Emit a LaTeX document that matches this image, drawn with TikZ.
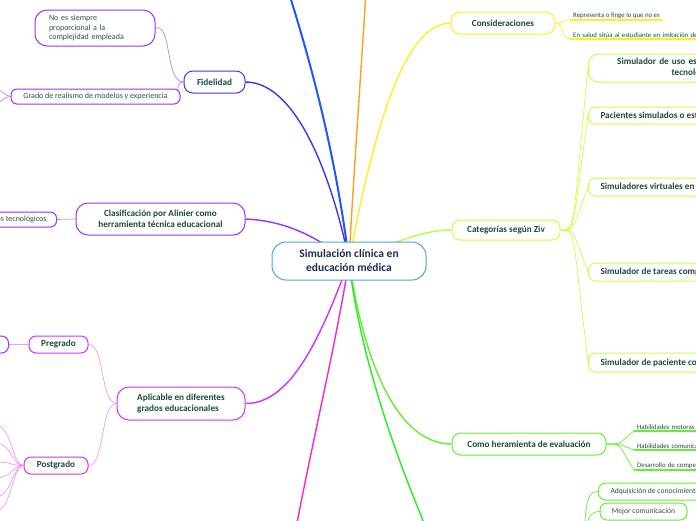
\documentclass[tikz,border=0pt]{standalone}
\usepackage{fontspec}
\setmainfont{Carlito}
\usetikzlibrary{backgrounds}

\definecolor{txtgreen}{HTML}{1B4A3A}
\definecolor{rootnavy}{HTML}{1F2D4D}
\definecolor{rootblue}{HTML}{4DA3E0}
\definecolor{fidblue}{HTML}{4433EE}
\definecolor{topblue}{HTML}{2255FF}
\definecolor{orangeb}{HTML}{FFA020}
\definecolor{yellowb}{HTML}{FFEE22}
\definecolor{limeb}{HTML}{CCFF44}
\definecolor{evalgreen}{HTML}{66EE33}
\definecolor{brightgreen}{HTML}{22EE22}
\definecolor{pinkb}{HTML}{FF22CC}
\definecolor{magentab}{HTML}{CC33FF}
\definecolor{violetb}{HTML}{9933FF}
\definecolor{lilac}{HTML}{AA88FF}
\definecolor{pinklight}{HTML}{EE99FF}

\tikzset{
  root/.style={draw=rootblue, line width=1pt, fill=white, rounded corners=14pt,
    minimum width=154pt, minimum height=38pt, align=center, text=rootnavy,
    font=\fontsize{11.5}{14}\selectfont\bfseries},
  topic/.style={draw, line width=1pt, fill=white, text=txtgreen, inner sep=2pt,
    font=\fontsize{9.2}{11}\selectfont\bfseries},
  leaf/.style={draw, line width=1pt, fill=white, text=txtgreen!85!gray, inner sep=2pt,
    font=\fontsize{8}{9.5}\selectfont},
  note/.style={text=txtgreen, inner xsep=3pt, inner ysep=1.5pt, anchor=south west,
    font=\fontsize{6.8}{8}\selectfont},
  branch/.style={line width=1.4pt},
  twig/.style={line width=0.7pt},
}

\begin{document}
\begin{tikzpicture}[x=1pt,y=-1pt]
\useasboundingbox (0,0) rectangle (696,520);
\clip (0,0) rectangle (696,520);

% centre
\node[root] (sim) at (349,261) {Simulación clínica en\\educación médica};

% left side
\node[topic, draw=fidblue, minimum width=61pt, minimum height=22pt, rounded corners=9pt] (fid) at (214.5,82) {Fidelidad};
\node[leaf, draw=violetb, minimum height=36pt, text width=92pt, inner xsep=14pt, align=left, rounded corners=12pt] (noes) at (95,28) {No es siempre\\proporcional a la\\complejidad empleada};
\node[leaf, draw=violetb, minimum width=169pt, minimum height=15pt, rounded corners=6pt] (grado) at (95.5,96.5) {Grado de realismo de modelos y experiencia};
\node[topic, draw=violetb, minimum width=169pt, minimum height=32pt, align=center, rounded corners=12pt] (alin) at (160.5,219) {Clasificación por Alinier como\\herramienta técnica educacional};
\node[leaf, draw=violetb, anchor=east, minimum height=15pt, inner xsep=10pt, rounded corners=6pt] (tec) at (57,219.5) {Recursos tecnológicos};
\node[topic, draw=magentab, minimum width=128pt, minimum height=33pt, align=left, rounded corners=12pt] (apl) at (181,403.5) {Aplicable en diferentes\\grados educacionales};
\node[topic, draw=magentab, minimum width=59pt, minimum height=17pt, rounded corners=7pt] (pre) at (58.5,344.5) {Pregrado};
\node[topic, draw=violetb, anchor=east, minimum width=50pt, minimum height=17pt, rounded corners=7pt] (preleft) at (9,344.5) {};
\node[topic, draw=magentab, minimum width=64pt, minimum height=17pt, rounded corners=7pt] (post) at (56,465.5) {Postgrado};

% right side
\node[topic, draw=yellowb, minimum width=104pt, minimum height=22pt, rounded corners=9pt] (consid) at (503,23) {Consideraciones};
\node[note] (rep) at (570,20) {Representa o finge lo que no es};
\node[note, text width=130pt, align=left] (salud) at (570,39) {En salud sitúa al estudiante en imitación de};

\node[topic, draw=limeb, minimum width=108pt, minimum height=20pt, rounded corners=8pt] (categ) at (506,230) {Categorías según Ziv};
\node[topic, draw=limeb, anchor=west, minimum height=28pt, text width=182pt, inner xsep=12pt, align=center, rounded corners=10pt] (z1) at (588,68) {Simulador de uso específico y de baja\\tecnología};
\node[topic, draw=limeb, anchor=west, minimum height=17pt, inner xsep=12pt, rounded corners=7pt] (z2) at (588,115.5) {Pacientes simulados o estandarizados};
\node[topic, draw=limeb, anchor=west, minimum height=18pt, inner xsep=12pt, rounded corners=7pt] (z3) at (588,187) {Simuladores virtuales en pantalla};
\node[topic, draw=limeb, anchor=west, minimum height=18pt, inner xsep=12pt, rounded corners=7pt] (z4) at (588,272) {Simulador de tareas complejas};
\node[topic, draw=limeb, anchor=west, minimum height=19pt, inner xsep=12pt, rounded corners=7pt] (z5) at (588,362.5) {Simulador de paciente completo};

\node[topic, draw=evalgreen, minimum width=154pt, minimum height=22pt, rounded corners=9pt] (evalu) at (529,444) {Como heramienta de evaluación};
\node[note, text width=90pt, align=left] (h1) at (634,431) {Habilidades motoras};
\node[note, text width=90pt, align=left] (h2) at (634,450) {Habilidades comunicativas};
\node[note, text width=90pt, align=left] (h3) at (634,470) {Desarrollo de competencias};

\node[leaf, draw=evalgreen, anchor=west, minimum height=17pt, inner xsep=12pt, rounded corners=7pt, font=\fontsize{7.6}{9}\selectfont] (adq) at (598,491.5) {Adquisición de conocimientos};
\node[leaf, draw=evalgreen, minimum width=87pt, minimum height=17pt, rounded corners=7pt, font=\fontsize{7.6}{9}\selectfont] (mejor) at (643.5,511.5) {Mejor comunicación};

% free ends
\coordinate (topb) at (288,-10);
\coordinate (topo) at (366,-10);
\coordinate (botg) at (440,560);
\coordinate (botp) at (290,560);
\coordinate (gl1) at (-8,88);
\coordinate (gl2) at (-8,104);
\coordinate (adqroot) at (584,535);

\begin{scope}[on background layer]
  % main branches
  \draw[branch, fidblue] (sim.center) .. controls (335,190) and (300,82) .. (fid.east);
  \draw[branch, topblue, line width=2pt] (sim.center) .. controls (335,150) and (310,60) .. (topb);
  \draw[branch, orangeb] (sim.center) .. controls (355,150) and (362,60) .. (topo);
  \draw[branch, yellowb] (sim.center) .. controls (370,150) and (400,23) .. (consid.west);
  \draw[branch, limeb!90!green] (sim.center) .. controls (390,245) and (420,230) .. (categ.west);
  \draw[branch, evalgreen] (sim.center) .. controls (365,370) and (400,444) .. (evalu.west);
  \draw[branch, brightgreen] (sim.center) .. controls (360,360) and (400,470) .. (botg);
  \draw[branch, pinkb] (sim.center) .. controls (335,350) and (310,450) .. (botp);
  \draw[branch, magentab] (sim.center) .. controls (320,340) and (290,404) .. (apl.east);
  \draw[branch, violetb] (sim.center) .. controls (320,240) and (290,221) .. (alin.east);

  % left twigs
  \draw[twig, lilac] (fid.west) .. controls (165,82) and (172,23) .. (noes.east);
  \draw[twig, lilac] (fid.west) .. controls (175,82) and (178,96) .. (grado.east);
  \draw[twig, lilac] (grado.west) .. controls (4,96) and (2,88) .. (gl1);
  \draw[twig, lilac] (grado.west) .. controls (4,96) and (2,104) .. (gl2);
  \draw[twig, violetb!60] (alin.west) -- (tec.east);
  \draw[twig, pinklight] (apl.west) .. controls (100,403) and (105,344) .. (pre.east);
  \draw[twig, pinklight] (apl.west) .. controls (100,404) and (105,466) .. (post.east);
  \draw[twig, pinklight] (pre.west) -- (preleft.east);
  \foreach \y [count=\i] in {425,443,462,478,497,511} {
    \coordinate (pf\i) at (-5,\y);
    \draw[twig, pinklight] (post.west) .. controls (12,466) and (12,\y) .. (pf\i);
  }

  % right twigs
  \draw[twig, yellowb] (consid.east) .. controls (565,23) and (560,20) .. (rep.south west);
  \draw[twig, yellowb] (consid.east) .. controls (565,23) and (560,39) .. (salud.south west);
  \foreach \n in {z1,z2,z3,z4,z5}
    \draw[twig, limeb] (categ.east) .. controls (576,230) and (572,230) .. (\n.west);
  \foreach \n in {h1,h2,h3}
    \draw[twig, evalgreen] (evalu.east) .. controls (622,444) and (618,444) .. (\n.south west);
  \draw[twig, evalgreen] (adqroot) .. controls (586,500) and (588,491.5) .. (adq.west);
  \draw[twig, evalgreen] (adqroot) .. controls (588,515) and (592,511.5) .. (mejor.west);
\end{scope}

% underlines
\foreach \n in {rep,salud}
  \draw[yellowb, line width=1.4pt] (\n.south west) -- (\n.south east);
\foreach \n in {h1,h2,h3}
  \draw[evalgreen, line width=1.4pt] (\n.south west) -- (\n.south east);
\end{tikzpicture}
\end{document}
